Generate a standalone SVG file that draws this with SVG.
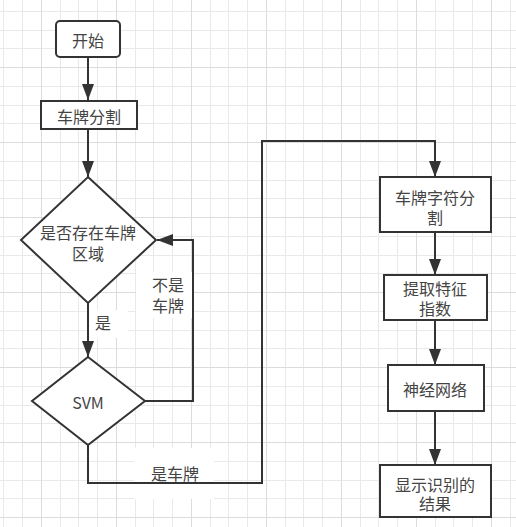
<svg xmlns="http://www.w3.org/2000/svg" width="516" height="527" viewBox="0 0 516 527">
<defs>
<style>
.grid{stroke:#e9e9e9;stroke-width:1;fill:none}
.grid2{stroke:#dcdcdc;stroke-width:1;fill:none}
.node{fill:#fff;stroke:#333;stroke-width:2}
.edge{fill:none;stroke:#333;stroke-width:2}
.t{font-family:"Noto Sans CJK SC","Microsoft YaHei",sans-serif;font-size:16px;fill:#444;text-anchor:middle;dominant-baseline:central}
.bg{fill:#fff;stroke:none}
</style>
<marker id="arr" markerUnits="userSpaceOnUse" markerWidth="17" markerHeight="13" refX="16" refY="6" orient="auto">
<path d="M0,0 L16,6 L0,12 Z" fill="#333"/>
</marker>
</defs>
<rect width="516" height="527" fill="#fff"/>
<g id="grid">
<path class="grid" d="M3.5,0V527M22.5,0V527M60.5,0V527M78.5,0V527M97.5,0V527M135.5,0V527M153.5,0V527M172.5,0V527M210.5,0V527M228.5,0V527M247.5,0V527M285.5,0V527M303.5,0V527M322.5,0V527M360.5,0V527M378.5,0V527M397.5,0V527M435.5,0V527M453.5,0V527M472.5,0V527M510.5,0V527
M0,11.5H516M0,30.5H516M0,48.5H516M0,86.5H516M0,105.5H516M0,123.5H516M0,161.5H516M0,180.5H516M0,198.5H516M0,236.5H516M0,255.5H516M0,273.5H516M0,311.5H516M0,330.5H516M0,348.5H516M0,386.5H516M0,405.5H516M0,423.5H516M0,461.5H516M0,480.5H516M0,498.5H516"/>
<path class="grid2" d="M41.5,0V527M116.5,0V527M191.5,0V527M266.5,0V527M341.5,0V527M416.5,0V527M491.5,0V527
M0,67.5H516M0,142.5H516M0,217.5H516M0,292.5H516M0,367.5H516M0,442.5H516M0,517.5H516"/>
</g>
<g id="labels-bg">
<rect class="bg" x="136" y="272" width="56" height="46"/>
<rect class="bg" x="89" y="310" width="39" height="28"/>
<rect class="bg" x="134" y="448" width="80" height="34"/>
<rect class="bg" x="134" y="484" width="80" height="15"/>
</g>
<g id="connectors">
<path class="edge" d="M88,57V100" marker-end="url(#arr)"/>
<path class="edge" d="M88,129V177" marker-end="url(#arr)"/>
<path class="edge" d="M88,303V357" marker-end="url(#arr)"/>
<path class="edge" d="M145,401H193V240H157" marker-end="url(#arr)"/>
<path class="edge" d="M88,445V483H262V141H435V177" marker-end="url(#arr)"/>
<path class="edge" d="M435,232V275" marker-end="url(#arr)"/>
<path class="edge" d="M435,320V365" marker-end="url(#arr)"/>
<path class="edge" d="M435,411V465" marker-end="url(#arr)"/>
<text class="t" x="168" y="284">不是</text>
<text class="t" x="168" y="305">车牌</text>
<text class="t" x="103" y="322">是</text>
<text class="t" x="175" y="473">是车牌</text>
</g>
<g id="start">
<rect class="node" x="56" y="21" width="64" height="36" rx="4"/>
<text class="t" x="88" y="40">开始</text>
</g>
<g id="plate-seg">
<rect class="node" x="41" y="101" width="96" height="28"/>
<text class="t" x="89" y="116">车牌分割</text>
</g>
<g id="has-plate">
<path class="node" d="M88,177L156,240L88,303L21,240Z"/>
<text class="t" x="88" y="232">是否存在车牌</text>
<text class="t" x="88" y="253">区域</text>
</g>
<g id="svm">
<path class="node" d="M88,357L145,401L88,445L32,401Z"/>
<text class="t" x="88" y="402">SVM</text>
</g>
<g id="char-seg">
<rect class="node" x="380" y="177" width="111" height="55"/>
<text class="t" x="435" y="197">车牌字符分</text>
<text class="t" x="435" y="217">割</text>
</g>
<g id="feature">
<rect class="node" x="384" y="275" width="103" height="45"/>
<text class="t" x="435" y="288">提取特征</text>
<text class="t" x="435" y="308">指数</text>
</g>
<g id="nn">
<rect class="node" x="388" y="365" width="96" height="46"/>
<text class="t" x="435" y="389">神经网络</text>
</g>
<g id="result">
<rect class="node" x="380" y="465" width="111" height="52"/>
<text class="t" x="435" y="484">显示识别的</text>
<text class="t" x="435" y="503">结果</text>
</g>
</svg>
